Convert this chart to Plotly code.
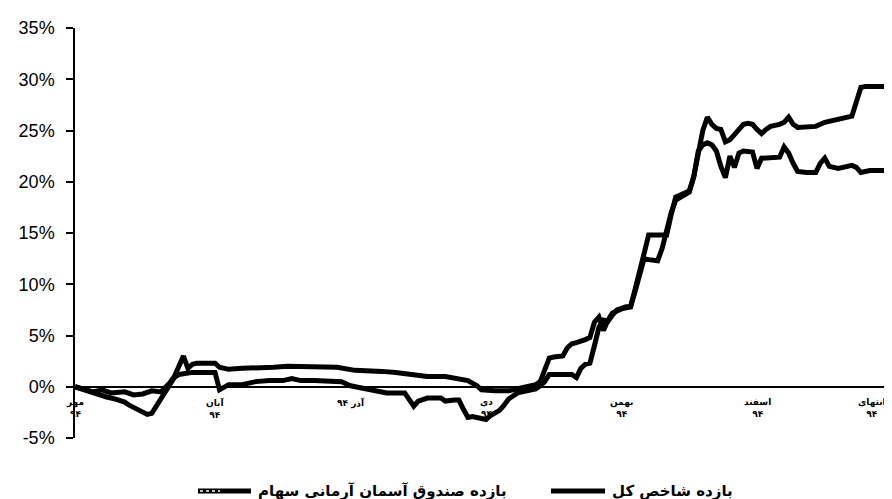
import plotly.graph_objects as go

# Day index within the period (Mehr 1394 .. end of 1394)
fund_days = [0, 2, 4, 6, 8, 11, 13, 15, 17, 19, 20, 21, 22, 23, 24, 25, 26, 27, 29, 31,
             32, 34, 37, 40, 44, 47, 51, 55, 58, 62, 65, 68, 71, 75, 78, 82, 85, 87, 89, 90,
             93, 96, 98, 100, 102, 103, 104, 105, 106, 107, 108, 109, 110, 111, 112, 113, 114,
             115, 116, 117, 118, 119, 121, 123, 124, 125, 126, 127, 129, 131, 132, 133, 135,
             136, 137, 138, 139, 140, 141, 142, 143, 144, 145, 146, 147, 148, 149, 150, 151,
             152, 153, 154, 156, 157, 158, 159, 160, 162, 164, 166, 168, 170, 172, 173, 174,
             175, 177, 179, 180]
fund_ret = [0, -0.2, -0.5, -0.3, -0.6, -0.5, -0.8, -0.7, -0.4, -0.5, -0.1, 0.4, 1.0, 2.0, 3.0,
            1.8, 2.2, 2.3, 2.3, 2.3,
            1.9, 1.7, 1.8, 1.8, 1.9, 2.0, 2.0, 2.0, 1.9, 1.6, 1.6, 1.5, 1.4, 1.2, 1.0, 1.0, 0.8,
            0.6, 0.1, -0.3,
            -0.4, -0.4, -0.2, 0.0, 0.2, 0.5, 1.8, 2.8, 2.9, 2.9, 3.0, 3.8, 4.2, 4.3, 4.4, 4.6, 4.8,
            6.3, 6.8, 5.5, 6.5, 7.2, 7.6, 7.8, 9.5, 11.5, 13.0, 14.8, 14.8, 14.8, 16.8, 18.5, 18.9,
            19.1, 20.5, 23.0, 25.0, 26.3, 25.6, 25.2, 25.1, 23.9, 24.1, 24.6, 25.2, 25.6, 25.7,
            25.6, 25.1,
            24.7, 25.1, 25.4, 25.6, 25.8, 26.3, 25.6, 25.3, 25.3, 25.4, 25.8, 26.0, 26.3, 26.4,
            27.8, 29.2,
            29.3, 29.3, 29.4, 29.3]

index_days = [0, 2, 4, 6, 7, 9, 11, 12, 14, 15, 16, 17, 18, 19, 20, 21, 22, 23, 24, 26, 29, 31,
              32, 33, 34, 37, 40, 43, 46, 48, 50, 53, 56, 59, 61, 64, 66, 69, 73, 74, 75, 76, 78,
              81, 82, 84, 85, 86, 87, 88, 90, 91, 92, 94, 95, 96, 98, 100, 102, 103, 104, 105,
              106, 108, 110, 111, 112, 113, 114, 115, 116, 117, 118, 119, 120, 122, 123, 124,
              125, 126, 127, 129, 130, 131, 132, 133, 135, 136, 137, 138, 139, 140, 141, 142,
              143, 144, 145, 146, 147, 148, 150, 151, 152, 154, 156, 157, 158, 159, 160, 162,
              164, 165, 166, 167, 169, 171, 172, 173, 174, 176, 180]
index_ret = [0, -0.3, -0.6, -0.9, -1.0, -1.2, -1.5, -1.8, -2.3, -2.5, -2.7, -2.6, -1.9, -1.0,
             -0.3, 0.3, 0.9, 1.2, 1.3, 1.4, 1.4, 1.4,
             -0.3, -0.1, 0.2, 0.2, 0.5, 0.6, 0.6, 0.8, 0.6, 0.6, 0.6, 0.5, 0.1, -0.2, -0.4, -0.6,
             -0.6, -1.2, -1.9, -1.4, -1.1,
             -1.1, -1.4, -1.3, -1.3, -2.2, -3.0, -2.9, -3.1, -3.2, -2.8, -2.3, -1.8, -1.2, -0.6,
             -0.4, -0.2, 0.1, 0.5, 1.2,
             1.2, 1.3, 1.2, 0.9, 1.8, 2.2, 2.3, 4.0, 5.8, 6.5, 6.4, 7.0, 7.5, 7.8, 7.8, 9.3,
             11.0, 12.5, 12.4, 12.3, 13.5, 15.5, 17.0, 18.2, 18.8, 19.0, 20.5, 23.0, 23.6, 23.8,
             23.6, 23.0,
             21.5, 20.4, 22.5, 21.4, 22.8, 23.0, 22.9, 21.3, 22.3, 22.4, 22.4, 23.4, 22.8, 21.8,
             21.0, 20.9,
             20.9, 21.8, 22.3, 21.5, 21.3, 21.5, 21.6, 21.4, 20.9, 21.1, 21.1]

series_names = ["بازده صندوق آسمان آرمانی سهام", "بازده شاخص کل"]

tick_days = [0, 31, 61, 91, 121, 151, 180]
tick_labels = ["مهر<br>۹۴", "آبان<br>۹۴", "آذر ۹۴", "دی<br>۹۴", "بهمن<br>۹۴", "اسفند<br>۹۴", "انتهای<br>۹۴"]

y_ticks = [-5, 0, 5, 10, 15, 20, 25, 30, 35]
y_labels = [f"{v}%" for v in y_ticks]

fa_font = "DejaVu Sans"
W, H = 892, 499
ML, MR, MT, MB = 67, 12, 20, 69
PW, PH = W - ML - MR, H - MT - MB


def px_x(px):
    return (px - ML) / PW


def px_y(py):
    return (H - MB - py) / PH


fig = go.Figure()
fig.add_trace(go.Scatter(x=fund_days, y=fund_ret, mode="lines", name=series_names[0],
                         showlegend=False, line=dict(color="black", width=5)))
fig.add_trace(go.Scatter(x=index_days, y=index_ret, mode="lines", name=series_names[1],
                         showlegend=False, line=dict(color="black", width=5)))

annotations = []
for i, (d, t) in enumerate(zip(tick_days, tick_labels)):
    last = i == len(tick_days) - 1
    annotations.append(dict(x=d, y=0, xref="x", yref="y", text="<b>" + t + "</b>",
                            showarrow=False, yanchor="top",
                            xanchor="right" if last else "center",
                            yshift=-8,
                            font=dict(family=fa_font, size=9, color="black")))

# hand-made legend (symbol on the left, text on the right)
legend_y = 483
legend_items = [(190, 243), (543, 597)]
shapes = []
for (x0, x1), name in zip(legend_items, series_names):
    shapes.append(dict(type="line", xref="paper", yref="paper",
                       x0=px_x(x0), x1=px_x(x1), y0=px_y(legend_y), y1=px_y(legend_y),
                       line=dict(color="black", width=5)))
    annotations.append(dict(x=px_x(x1 + 5), y=px_y(legend_y), xref="paper", yref="paper",
                            text="<b>" + name + "</b>", showarrow=False,
                            xanchor="left", yanchor="middle",
                            font=dict(family=fa_font, size=15, color="black")))
# white dotted core on the fund's legend symbol
shapes.append(dict(type="line", xref="paper", yref="paper",
                   x0=px_x(192), x1=px_x(212), y0=px_y(legend_y), y1=px_y(legend_y),
                   line=dict(color="white", width=1.5, dash="dot")))

fig.update_layout(
    width=W, height=H,
    margin=dict(l=ML, r=MR, t=MT, b=MB),
    paper_bgcolor="white", plot_bgcolor="white",
    showlegend=False,
    xaxis=dict(range=[0, 180], showgrid=False, zeroline=False, showline=False,
               showticklabels=False, ticks="", automargin=False),
    yaxis=dict(range=[-5, 35], tickvals=y_ticks, ticktext=y_labels, showgrid=False,
               zeroline=True, zerolinecolor="black", zerolinewidth=1.5,
               showline=True, linecolor="black", linewidth=1.5,
               ticks="outside", ticklen=7, tickcolor="black", tickwidth=1.5,
               ticklabelstandoff=8, automargin=False,
               tickfont=dict(family="Liberation Sans", size=18, color="black")),
    annotations=annotations,
    shapes=shapes,
)

fig.write_html("out.html")
